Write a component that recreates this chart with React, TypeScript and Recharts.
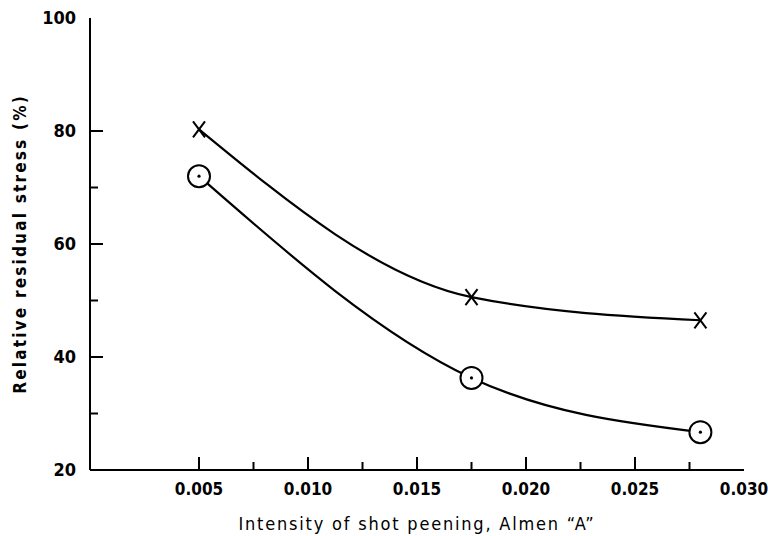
import { ComposedChart, Line, XAxis, YAxis, Label } from "recharts";

// intensity (Almen "A") vs relative residual stress (%)
const crossSeries = [
  { x: 0.005, y: 80.3 },
  { x: 0.0175, y: 50.6 },
  { x: 0.028, y: 46.5 },
];
const circleSeries = [
  { x: 0.005, y: 72 },
  { x: 0.0175, y: 36.3 },
  { x: 0.028, y: 26.7 },
];
const xTicks = [0.005, 0.0075, 0.01, 0.0125, 0.015, 0.0175, 0.02, 0.0225, 0.025, 0.0275, 0.03];
const xLabelTicks = [0.005, 0.01, 0.015, 0.02, 0.025, 0.03];
const yTicks = [20, 30, 40, 50, 60, 70, 80, 100];
const yLabelTicks = [20, 40, 60, 80, 100];

const font = "'Liberation Sans Narrow', 'DejaVu Sans Condensed', 'DejaVu Sans', sans-serif";

const isMajor = (list: number[], v: number) => list.some((t) => Math.abs(t - v) < 1e-9);

function XTick(props: any) {
  const { x, y, payload } = props;
  const major = isMajor(xLabelTicks, payload.value);
  return (
    <g>
      {payload.value < 0.0299 && (
        <line x1={x} x2={x} y1={y} y2={y - (major ? 13 : 8)} stroke="#000" strokeWidth={2} />
      )}
      {major && (
        <text x={x} y={y + 25} textAnchor="middle" fontFamily={font} fontWeight="bold" fontSize={17} fill="#000">
          {payload.value.toFixed(3)}
        </text>
      )}
    </g>
  );
}

function YTick(props: any) {
  const { x, y, payload } = props;
  const major = isMajor(yLabelTicks, payload.value);
  const inner = payload.value > 20 && payload.value < 100;
  return (
    <g>
      {inner && <line x1={x} x2={x + (major ? 13 : 8)} y1={y} y2={y} stroke="#000" strokeWidth={2} />}
      {major && (
        <text x={x - 14} y={y + 6} textAnchor="end" fontFamily={font} fontWeight="bold" fontSize={18} fill="#000">
          {payload.value}
        </text>
      )}
    </g>
  );
}

function CrossDot(props: any) {
  const { cx, cy } = props;
  return (
    <g stroke="#000" strokeWidth={2}>
      <line x1={cx - 6} y1={cy - 8} x2={cx + 6} y2={cy + 8} />
      <line x1={cx + 6} y1={cy - 8} x2={cx - 6} y2={cy + 8} />
    </g>
  );
}

function CircleDot(props: any) {
  const { cx, cy } = props;
  return (
    <g>
      <circle cx={cx} cy={cy} r={11} fill="#fff" stroke="#000" strokeWidth={2} />
      <circle cx={cx} cy={cy} r={1.6} fill="#000" />
    </g>
  );
}

export default function App() {
  return (
    <div style={{ position: "absolute", left: 0, top: 0, background: "#fff" }}>
      <ComposedChart width={768} height={536} margin={{ top: 18, right: 24, bottom: 0, left: 0 }}>
        <XAxis
          xAxisId="main"
          type="number"
          dataKey="x"
          domain={[0, 0.03]}
          ticks={xTicks}
          interval={0}
          tickSize={0}
          tickMargin={0}
          height={66}
          axisLine={{ stroke: "#000", strokeWidth: 2 }}
          tick={<XTick />}
          allowDataOverflow
        >
          <Label
            value="Intensity of shot peening,  Almen “A”"
            position="insideBottom"
            offset={6}
            style={{ fontFamily: font, fontSize: 18, fill: "#000", letterSpacing: 1.8 }}
          />
        </XAxis>
        <XAxis xAxisId="top" orientation="top" type="number" domain={[0, 0.03]} height={0} tick={false} tickLine={false} axisLine={{ stroke: "#000", strokeWidth: 2 }} />
        <YAxis
          yAxisId="main"
          type="number"
          domain={[20, 100]}
          ticks={yTicks}
          interval={0}
          tickSize={0}
          tickMargin={0}
          width={90}
          axisLine={{ stroke: "#000", strokeWidth: 2 }}
          tick={<YTick />}
          allowDataOverflow
        >
          <Label
            value="Relative residual stress  (%)"
            angle={-90}
            position="insideLeft"
            offset={20}
            style={{ fontFamily: font, fontWeight: "bold", fontSize: 17, fill: "#000", letterSpacing: 2.2, textAnchor: "middle" }}
          />
        </YAxis>
        <YAxis yAxisId="right" orientation="right" domain={[20, 100]} width={0} tick={false} tickLine={false} axisLine={{ stroke: "#000", strokeWidth: 2 }} />
        <Line
          xAxisId="main"
          yAxisId="main"
          data={crossSeries}
          dataKey="y"
          type="monotone"
          stroke="#000"
          strokeWidth={2.2}
          dot={<CrossDot />}
          activeDot={false}
          isAnimationActive={false}
        />
        <Line
          xAxisId="main"
          yAxisId="main"
          data={circleSeries}
          dataKey="y"
          type="monotone"
          stroke="#000"
          strokeWidth={2.2}
          dot={<CircleDot />}
          activeDot={false}
          isAnimationActive={false}
        />
      </ComposedChart>
    </div>
  );
}
